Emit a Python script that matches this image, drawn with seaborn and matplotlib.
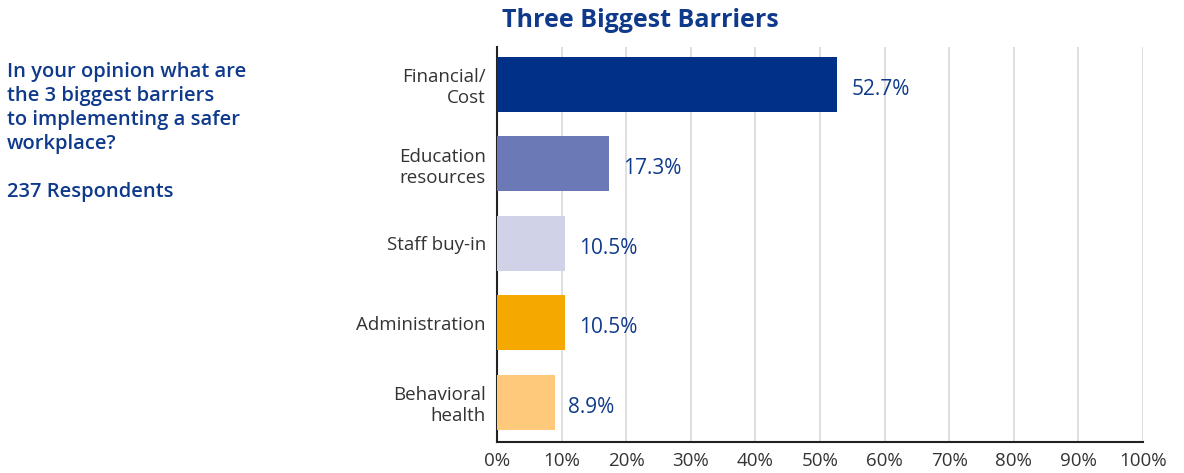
import matplotlib
matplotlib.use("Agg")
import matplotlib.pyplot as plt
import seaborn as sns
import pandas as pd

categories = ["Financial/\nCost", "Education\nresources", "Staff buy-in", "Administration", "Behavioral\nhealth"]
values = [52.7, 17.3, 10.5, 10.5, 8.9]
colors = ["#003087", "#6b7ab6", "#d0d2e8", "#f5a800", "#fec97a"]
x_ticks = [0, 10, 20, 30, 40, 50, 60, 70, 80, 90, 100]

navy = "#0f3a8c"

sns.set_theme(style="white")
plt.rcParams["font.family"] = ["Open Sans", "DejaVu Sans"]

df = pd.DataFrame({"Barrier": categories, "Percent": values})

fig = plt.figure(figsize=(11.84, 4.73), dpi=100)
ax = fig.add_axes([0.4198, 0.0655, 0.5456, 0.8351])

sns.barplot(data=df, y="Barrier", x="Percent", hue="Barrier", palette=colors,
            legend=False, width=0.69, saturation=1, linewidth=0, ax=ax, zorder=3)

for patch, v in zip(ax.patches, values):
    y = patch.get_y() + patch.get_height() / 2
    ax.annotate(f"{v}%", (patch.get_width(), y), xytext=(10, -3.5),
                textcoords="offset points", va="center", ha="left",
                fontsize=15, color=navy)

ax.set_xlim(0, 100)
ax.set_ylim(4.5, -0.47)
ax.set_xticks(x_ticks)
ax.set_xticklabels([f"{t}%" for t in x_ticks], fontsize=13.5, color="#333333")
ax.tick_params(axis="y", labelsize=13.5, labelcolor="#333333", length=0, pad=8)
ax.tick_params(axis="x", length=0, pad=7)
ax.xaxis.grid(True, color="#dcdcdc", linewidth=1.3, zorder=0)
ax.set_xlabel("")
ax.set_ylabel("")
for side in ["top", "right"]:
    ax.spines[side].set_visible(False)
for side in ["left", "bottom"]:
    ax.spines[side].set_color("#222222")
    ax.spines[side].set_linewidth(1.5)

fig.text(0.541, 0.957, "Three Biggest Barriers", ha="center", va="center",
         fontsize=18, fontweight="bold", color=navy)

fig.text(0.006, 0.868,
         "In your opinion what are\nthe 3 biggest barriers\nto implementing a safer\nworkplace?\n\n237 Respondents",
         ha="left", va="top", fontsize=14.5, fontweight="semibold", color=navy,
         linespacing=1.26)

fig.savefig("out.png", dpi=100)
